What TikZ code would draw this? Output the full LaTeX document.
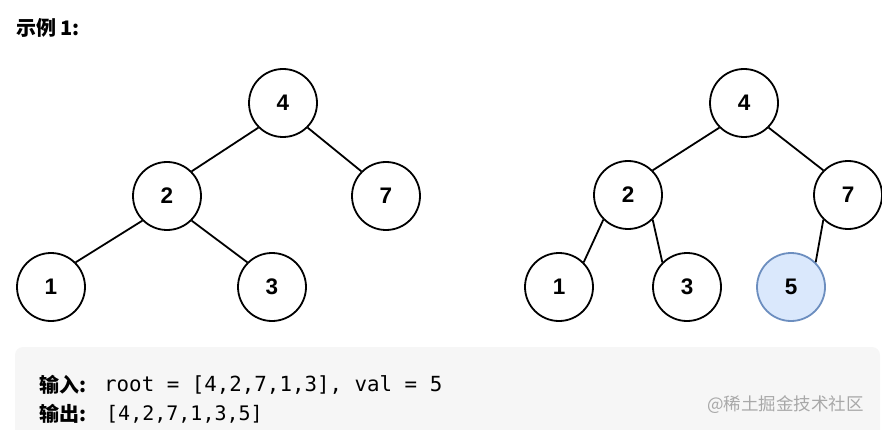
\documentclass[tikz,border=0pt]{standalone}
\usepackage{fontspec}
\setmainfont{Liberation Sans}
\setmonofont{DejaVu Sans Mono}
\newfontfamily\cjk{Noto Sans CJK SC}
\definecolor{boxbg}{HTML}{F6F6F6}
\definecolor{nfill}{HTML}{DAE8FC}
\definecolor{ndraw}{HTML}{6C8EBF}
\definecolor{wm}{HTML}{A8A8A8}
\tikzset{
  tnode/.style={circle, draw=black, line width=1.8pt, minimum size=68pt, inner sep=0pt, fill=white,
    font=\fontsize{22.5}{22}\selectfont\bfseries},
  hinode/.style={tnode, draw=ndraw, fill=nfill},
  edge/.style={line width=1.8pt, draw=black},
  lbl/.style={anchor=west, inner sep=0pt},
}
\begin{document}
\begin{tikzpicture}[x=1pt, y=-1pt]
\useasboundingbox (0,0) rectangle (882,430);
% title
\node[lbl] (title) at (16,28) {\cjk\bfseries\fontsize{20}{20}\selectfont 示例 1:};
% left tree
\node[tnode] (a4) at (283,103) {4};
\node[tnode] (a2) at (167,196) {2};
\node[tnode] (a7) at (386,196) {7};
\node[tnode] (a1) at (51,287) {1};
\node[tnode] (a3) at (272,287) {3};
\draw[edge] (a4.south west) -- (a2.north east);
\draw[edge] (a4.south east) -- (a7.north west);
\draw[edge] (a2.south west) -- (a1.north east);
\draw[edge] (a2.south east) -- (a3.north west);
% right tree
\node[tnode] (b4) at (744,103) {4};
\node[tnode] (b2) at (628,195) {2};
\node[tnode] (b7) at (848,195) {7};
\node[tnode] (b1) at (559,287) {1};
\node[tnode] (b3) at (687,287) {3};
\node[hinode] (b5) at (791,287) {5};
\draw[edge] (b4.south west) -- (b2.north east);
\draw[edge] (b4.south east) -- (b7.north west);
\draw[edge] (b2.south west) -- (b1.north east);
\draw[edge] (b2.south east) -- (b3.north west);
\draw[edge] (b7.south west) -- (b5.north east);
% example box
\fill[boxbg, rounded corners=8pt] (15,347) rectangle (880,450);
\node[lbl] (in) at (39,385) {\cjk\bfseries\fontsize{20}{20}\selectfont 输入:};
\node[lbl] (inv) at (104,385) {\ttfamily\fontsize{20.8}{20}\selectfont root = [4,2,7,1,3], val = 5};
\node[lbl] (out) at (39,414) {\cjk\bfseries\fontsize{20}{20}\selectfont 输出:};
\node[lbl] (outv) at (106,414) {\ttfamily\fontsize{20}{20}\selectfont [4,2,7,1,3,5]};
\node[lbl, text=wm] (wmk) at (707,405) {\cjk\fontsize{17.5}{17.5}\selectfont @稀土掘金技术社区};
\end{tikzpicture}
\end{document}
